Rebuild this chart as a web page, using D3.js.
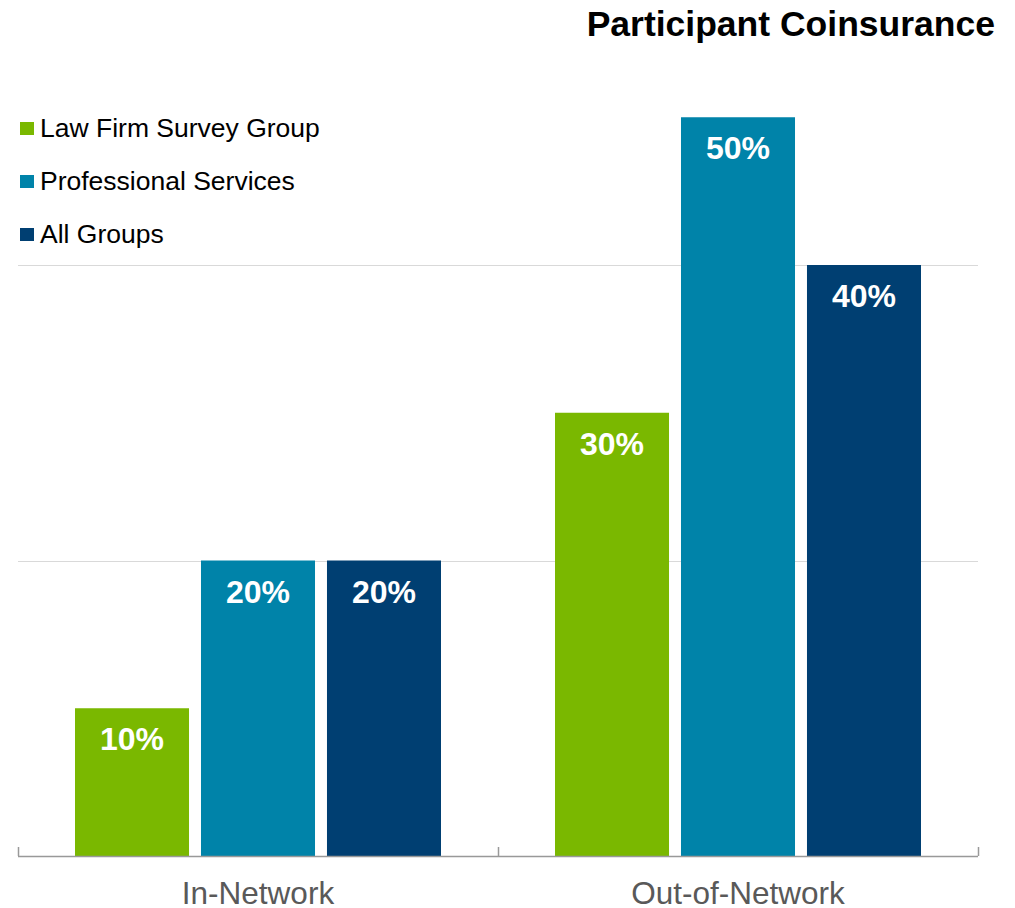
<!doctype html>
<html>
<head>
<meta charset="utf-8">
<title>Participant Coinsurance</title>
<script src="https://d3js.org/d3.v7.min.js"></script>
<style>
  body { margin: 0; background: #fff; }
  text { font-family: Arial, "Liberation Sans", sans-serif; }
</style>
</head>
<body>
<svg width="1015" height="908"></svg>
<script>
var categories = ["In-Network", "Out-of-Network"]
var series = ["Law Firm Survey Group", "Professional Services", "All Groups"]
var lawFirm = [10, 30]
var profServices = [20, 50]
var allGroups = [20, 40]
var gridTicks = [20, 40]
var colors = ["#7AB800", "#0083A9", "#003F72"]

var values = [lawFirm, profServices, allGroups]

var svg = d3.select("svg")
var left = 18, right = 978, base = 856

var x0 = d3.scaleBand().domain(categories).range([left, right]).paddingInner(0).paddingOuter(0)
var x1 = d3.scaleBand().domain(series).range([57, x0.bandwidth() - 57]).paddingInner(0.095)
var y = d3.scaleLinear().domain([0, 50]).range([base, base - 738.75])

// title
svg.append("text")
    .attr("x", 995).attr("y", 36)
    .attr("text-anchor", "end")
    .attr("font-size", "35.5px").attr("font-weight", "bold")
    .attr("fill", "#000")
    .text("Participant Coinsurance")

// gridlines
svg.selectAll(".grid")
    .data(gridTicks)
    .enter().append("line")
    .attr("x1", left).attr("x2", right)
    .attr("y1", function(d) { return Math.round(y(d)) + 0.5 })
    .attr("y2", function(d) { return Math.round(y(d)) + 0.5 })
    .attr("stroke", "#d9d9d9").attr("stroke-width", 1)

// bars
var groups = svg.selectAll(".cat")
    .data(categories)
    .enter().append("g")
    .attr("transform", function(d) { return "translate(" + x0(d) + ",0)" })

groups.each(function(cat, ci) {
    var g = d3.select(this)
    var rows = series.map(function(s, si) { return { s: s, v: values[si][ci], c: colors[si] } })
    g.selectAll("rect")
        .data(rows)
        .enter().append("rect")
        .attr("x", function(d) { return x1(d.s) })
        .attr("y", function(d) { return y(d.v) })
        .attr("width", x1.bandwidth())
        .attr("height", function(d) { return base - y(d.v) })
        .attr("fill", function(d) { return d.c })
    g.selectAll(".lbl")
        .data(rows)
        .enter().append("text")
        .attr("x", function(d) { return x1(d.s) + x1.bandwidth() / 2 })
        .attr("y", function(d) { return y(d.v) + 42 })
        .attr("text-anchor", "middle")
        .attr("font-size", "32px").attr("font-weight", "bold")
        .attr("fill", "#fff")
        .text(function(d) { return d.v + "%" })
})

// x axis
var axis = svg.append("g")
    .attr("transform", "translate(0," + base + ")")
axis.append("line")
    .attr("x1", left).attr("x2", right)
    .attr("y1", 0.5).attr("y2", 0.5)
    .attr("stroke", "#999").attr("stroke-width", 1.5)
var tickXs = [left, left + x0.bandwidth(), right]
axis.selectAll(".tick")
    .data(tickXs)
    .enter().append("line")
    .attr("x1", function(d) { return d + 0.5 }).attr("x2", function(d) { return d + 0.5 })
    .attr("y1", -9).attr("y2", 0)
    .attr("stroke", "#999").attr("stroke-width", 1.5)
axis.selectAll(".clabel")
    .data(categories)
    .enter().append("text")
    .attr("x", function(d) { return x0(d) + x0.bandwidth() / 2 })
    .attr("y", 48)
    .attr("text-anchor", "middle")
    .attr("font-size", "31.5px")
    .attr("fill", "#595959")
    .text(function(d) { return d })

// legend
var legend = svg.selectAll(".leg")
    .data(series)
    .enter().append("g")
    .attr("transform", function(d, i) { return "translate(20," + (122 + i * 53) + ")" })
legend.append("rect")
    .attr("width", 14).attr("height", 13)
    .attr("fill", function(d, i) { return colors[i] })
legend.append("text")
    .attr("x", 20).attr("y", 15)
    .attr("font-size", "26.5px")
    .attr("fill", "#000")
    .text(function(d) { return d })
</script>
</body>
</html>
